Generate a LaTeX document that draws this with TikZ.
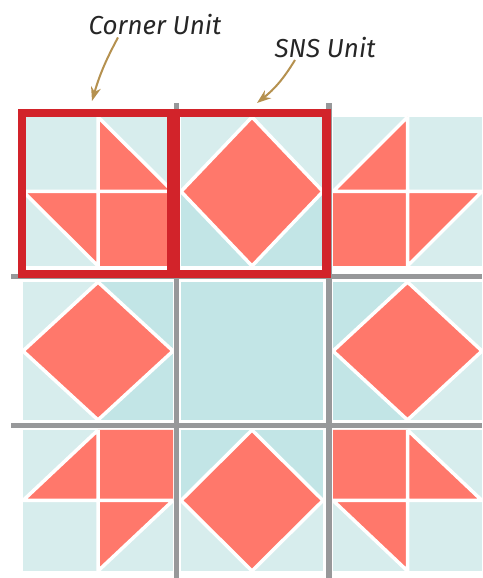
\documentclass[tikz,border=0pt]{standalone}
\usepackage{fontspec}
\newfontfamily\notefont{Fira Sans}
\usetikzlibrary{arrows.meta}

\definecolor{aqualight}{HTML}{D7EDED}
\definecolor{aquadark}{HTML}{C2E5E6}
\definecolor{salmon}{HTML}{FF786B}
\definecolor{unitred}{HTML}{D2232A}
\definecolor{gridgray}{HTML}{97989A}
\definecolor{pointerbrown}{HTML}{B5914F}

\begin{document}
\begin{tikzpicture}[x=1pt, y=1pt,
    patchlight/.style={fill=aqualight},
    patchdark/.style={fill=aquadark},
    patchsalmon/.style={fill=salmon},
    seamline/.style={draw=white, line width=3.5pt},
    squarepatch/.style={fill=salmon, draw=white, line width=3.5pt},
    gridline/.style={draw=gridgray, line width=5pt},
    unitbox/.style={draw=unitred, line width=8.5pt},
    unitlabel/.style={inner sep=0pt, text=black!85, font=\notefont\itshape\fontsize{26}{26}\selectfont},
    unitarrow/.style={draw=pointerbrown, line width=2pt, ->, >={Stealth[length=14pt, width=10pt]}}]
    \useasboundingbox (0,0) rectangle (482,578);

    % Corner units (coins)
    % haut gauche
    \fill[patchlight] (23,312) rectangle (173,461);
    \fill[patchsalmon] (98,312) rectangle (173,386.5) (98,461) -- (98,386.5) -- (173,386.5) -- cycle
        (23,386.5) -- (98,386.5) -- (98,312) -- cycle;
    \draw[seamline] (98,461) -- (98,312) (23,386.5) -- (173,386.5) (98,461) -- (173,386.5) (23,386.5) -- (98,312);
    % haut droite
    \fill[patchlight] (333,312) rectangle (482,461);
    \fill[patchsalmon] (333,312) rectangle (407.5,386.5) (407.5,461) -- (333,386.5) -- (407.5,386.5) -- cycle
        (407.5,386.5) -- (482,386.5) -- (407.5,312) -- cycle;
    \draw[seamline] (407.5,461) -- (407.5,312) (333,386.5) -- (482,386.5) (407.5,461) -- (333,386.5) (482,386.5) -- (407.5,312);
    % bas gauche
    \fill[patchlight] (23,7) rectangle (173,148);
    \fill[patchsalmon] (98,77.5) rectangle (173,148) (98,148) -- (98,77.5) -- (23,77.5) -- cycle
        (98,77.5) -- (173,77.5) -- (98,7) -- cycle;
    \draw[seamline] (98,148) -- (98,7) (23,77.5) -- (173,77.5) (98,148) -- (23,77.5) (173,77.5) -- (98,7);
    % bas droite
    \fill[patchlight] (333,7) rectangle (482,148);
    \fill[patchsalmon] (333,77.5) rectangle (407.5,148) (407.5,148) -- (407.5,77.5) -- (482,77.5) -- cycle
        (333,77.5) -- (407.5,77.5) -- (407.5,7) -- cycle;
    \draw[seamline] (407.5,148) -- (407.5,7) (333,77.5) -- (482,77.5) (407.5,148) -- (482,77.5) (333,77.5) -- (407.5,7);

    % SNS units (losanges), cote sombre vers le centre
    \fill[patchlight] (181,312) rectangle (323,461);
    \fill[patchdark] (181,312) rectangle (323,386.5);
    \filldraw[squarepatch] (252,461) -- (323,386.5) -- (252,312) -- (181,386.5) -- cycle;
    \fill[patchlight] (23,158) rectangle (173,296);
    \fill[patchdark] (98,158) rectangle (173,296);
    \filldraw[squarepatch] (98,296) -- (173,227) -- (98,158) -- (23,227) -- cycle;
    \fill[patchlight] (333,158) rectangle (482,296);
    \fill[patchdark] (333,158) rectangle (407.5,296);
    \filldraw[squarepatch] (407.5,296) -- (482,227) -- (407.5,158) -- (333,227) -- cycle;
    \fill[patchlight] (181,7) rectangle (323,148);
    \fill[patchdark] (181,77.5) rectangle (323,148);
    \filldraw[squarepatch] (252,148) -- (323,77.5) -- (252,7) -- (181,77.5) -- cycle;

    % Centre
    \fill[patchdark] (181,158) rectangle (323,296);

    % Grille (lignes grises)
    \draw[gridline] (176.5,0) -- (176.5,475);
    \draw[gridline, line width=6pt] (329,0) -- (329,475);
    \draw[gridline] (11,301) -- (482,301);
    \draw[gridline] (11,152.5) -- (482,152.5);

    % Cadres rouges
    \draw[unitbox] (22,465) rectangle (171,304);
    \draw[unitbox] (176,465) rectangle (326.5,304);

    % Etiquettes et fleches
    \node[unitlabel] (cornerlbl) at (155,553) {Corner Unit};
    \node[unitlabel] (snslbl) at (325,530.5) {SNS Unit};
    \coordinate (cornertip) at (92,477);
    \coordinate (snstip) at (257,475);
    \draw[unitarrow] ([xshift=-37pt, yshift=-2pt]cornerlbl.south) to[bend right=6] (cornertip);
    \draw[unitarrow] ([xshift=-30pt, yshift=-2pt]snslbl.south) to[bend left=10] (snstip);
\end{tikzpicture}
\end{document}
